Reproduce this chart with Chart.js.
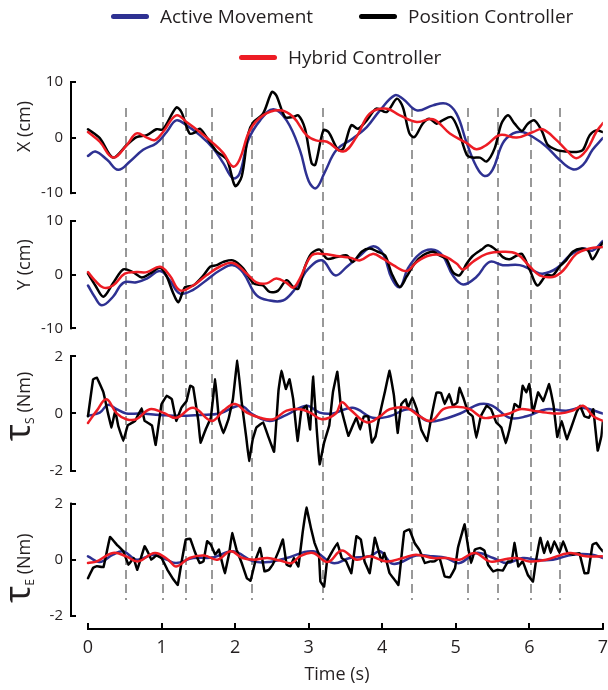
<!DOCTYPE html>
<html>
<head>
<meta charset="utf-8">
<script src="https://cdn.jsdelivr.net/npm/chart.js@4.4.1/dist/chart.umd.min.js"></script>
<style>
    body { margin: 0; background: #fff; }
    #wrap { position: relative; width: 608px; height: 690px; }
    #legend { position: absolute; left: 0; top: 0; width: 608px; height: 80px;
              font-family: 'Open Sans', sans-serif; font-size: 19px; color: #231f20; }
    .item { position: absolute; display: flex; align-items: center; white-space: nowrap; height: 24px; }
    .swatch { width: 38px; height: 5px; border-radius: 3px; margin-right: 11px; }
</style>
</head>
<body>
<div id="wrap">
    <canvas id="chart" width="608" height="690"></canvas>
    <div id="legend"></div>
</div>
<script>
// Tick values and event markers
const timeTicks = [0, 1, 2, 3, 4, 5, 6, 7];
const posTicks = [-10, 0, 10];
const torqueTicks = [-2, 0, 2];
const markerTimes = [0.52, 1.02, 1.33, 1.69, 2.23, 3.19, 4.41, 5.16, 5.58, 6.02, 6.42];

const seriesNames = ['Active Movement', 'Position Controller', 'Hybrid Controller'];
const seriesColors = ['#2e3192', '#000000', '#ed1c24'];

// X (cm) - [time, value]
const xActive = [[0,-3.3],[0.1,-2.5],[0.26,-4],[0.41,-5.8],[0.57,-4.3],[0.75,-2.2],[0.93,-1.0],[1.07,1.0],[1.2,3.1],[1.34,2.2],[1.52,0.45],[1.7,-1.9],[1.84,-4.6],[1.97,-7.3],[2.06,-6.5],[2.18,-0.45],[2.34,3.1],[2.52,5.1],[2.7,3.1],[2.88,-2.2],[3.0,-7.8],[3.1,-9.1],[3.22,-6.2],[3.38,-2.2],[3.6,-0.15],[3.79,1.9],[3.97,4.9],[4.17,7.6],[4.28,7.0],[4.47,4.9],[4.69,5.8],[4.87,6.1],[5.01,4.3],[5.15,-1.0],[5.28,-5.2],[5.39,-6.9],[5.5,-5.8],[5.64,-1.0],[5.78,0.75],[5.91,1.0],[6.05,0.1],[6.23,-1.6],[6.41,-4.0],[6.59,-5.7],[6.73,-4.9],[6.86,-2.2],[7.0,-0.1]];
const xPosition = [[0,1.5],[0.16,-0.1],[0.34,-3.6],[0.53,-1.3],[0.66,0.1],[0.8,0.45],[0.93,1.5],[1.02,1.5],[1.2,5.4],[1.27,4.6],[1.38,0.75],[1.45,0.9],[1.52,1.6],[1.61,0.1],[1.75,-2.5],[1.89,-4],[2.0,-8.7],[2.09,-7],[2.18,0.75],[2.25,2.8],[2.38,4.3],[2.5,8.2],[2.56,7.6],[2.68,3.7],[2.79,3.7],[2.86,4.0],[2.95,1.6],[3.04,-4.6],[3.09,-4.9],[3.2,1.3],[3.27,1.0],[3.4,-2.2],[3.47,-2],[3.58,2.2],[3.67,1.6],[3.79,3.1],[3.92,5.2],[4.06,4.6],[4.2,7.0],[4.28,5.5],[4.37,0.75],[4.44,0.1],[4.55,2.5],[4.64,3.4],[4.74,2.5],[4.82,3.1],[4.94,3.7],[5.03,1.6],[5.15,-3.1],[5.23,-3.6],[5.33,-3.6],[5.42,-4.3],[5.53,-1.9],[5.62,2.5],[5.71,4.0],[5.8,2.5],[5.9,1.2],[5.98,2.5],[6.07,3.1],[6.17,1.2],[6.25,-1.3],[6.37,-2.2],[6.5,-2.5],[6.64,-2.6],[6.73,-2.2],[6.82,0.4],[6.91,1.3],[7.0,1.0]];
const xHybrid = [[0,1.0],[0.16,-0.75],[0.34,-3.6],[0.53,-1.3],[0.66,0.75],[0.8,0],[0.91,-0.45],[1.02,1.0],[1.2,4.0],[1.34,2.8],[1.52,1.0],[1.7,-1.0],[1.84,-2.8],[1.97,-5.2],[2.06,-4],[2.2,1.3],[2.38,4.0],[2.61,4.9],[2.79,3.7],[2.97,0.45],[3.1,-0.5],[3.25,-0.75],[3.47,-2.5],[3.65,0.1],[3.83,4.3],[4.06,5.2],[4.24,4.0],[4.47,2.8],[4.69,3.3],[4.92,0.75],[5.15,-1.0],[5.28,-2.1],[5.42,-1.3],[5.6,0.45],[5.83,0],[6.05,1.0],[6.18,1.5],[6.37,-0.45],[6.5,-2.2],[6.64,-3.7],[6.78,-2.2],[6.91,1.0],[7.0,2.6]];

// Y (cm)
const yActive = [[0,-2.0],[0.09,-4.1],[0.19,-5.7],[0.34,-4.1],[0.48,-1.5],[0.66,-1.4],[0.8,-0.7],[0.98,0.7],[1.11,-1.0],[1.25,-3.5],[1.43,-2.8],[1.61,-1.0],[1.79,0.8],[1.97,1.8],[2.11,0.4],[2.29,-3.8],[2.47,-4.8],[2.65,-4.8],[2.79,-3.1],[2.88,-1.3],[3.0,1.2],[3.18,2.7],[3.36,-0.1],[3.52,1.5],[3.7,3.6],[3.87,5.3],[4.01,3.9],[4.13,-0.7],[4.24,-2.3],[4.35,1.2],[4.51,3.9],[4.67,4.7],[4.82,3.6],[4.96,-0.1],[5.1,-1.8],[5.28,-0.4],[5.46,2.4],[5.64,1.8],[5.87,1.8],[6.05,0.8],[6.18,0.2],[6.37,1.2],[6.55,3.6],[6.73,4.9],[6.86,4.5],[7.0,6.3]];
const yPosition = [[0,0.2],[0.1,-2.0],[0.21,-4.1],[0.34,-1.6],[0.48,1.0],[0.61,0.5],[0.73,-0.5],[0.84,0.2],[0.98,1.3],[1.07,-0.3],[1.16,-3.5],[1.23,-5.1],[1.32,-2.3],[1.43,-2.0],[1.57,-0.1],[1.66,1.5],[1.75,1.8],[1.84,2.4],[1.97,2.7],[2.11,1.2],[2.25,-1.6],[2.38,-2.0],[2.47,-3.2],[2.58,-3.0],[2.7,-1.0],[2.79,-2.3],[2.86,-2.6],[2.95,1.5],[3.04,4.0],[3.15,4.7],[3.25,3.0],[3.38,3.3],[3.52,3.6],[3.6,2.4],[3.72,4.3],[3.83,4.9],[3.94,4.3],[4.04,3.6],[4.13,0.2],[4.24,-2.3],[4.33,-0.4],[4.44,2.1],[4.55,3.6],[4.69,4.3],[4.78,3.6],[4.87,3.0],[4.96,0.5],[5.05,-0.1],[5.15,2.1],[5.23,3.5],[5.35,4.7],[5.44,5.5],[5.56,4.5],[5.64,3.3],[5.73,2.9],[5.83,3.6],[5.9,3.9],[6.01,0.8],[6.11,-2.0],[6.23,-0.1],[6.32,-0.1],[6.41,1.5],[6.5,2.7],[6.59,4.3],[6.71,4.9],[6.8,4.5],[6.86,2.9],[6.96,5.2],[7.0,6.0]];
const yHybrid = [[0,0.5],[0.09,-1.0],[0.21,-2.4],[0.34,-2.0],[0.5,0.2],[0.66,0.5],[0.8,0.5],[0.98,1.5],[1.11,-0.1],[1.25,-2.9],[1.43,-2.0],[1.61,-0.1],[1.79,1.5],[1.97,2.2],[2.16,0.2],[2.29,-1.4],[2.43,-1.6],[2.56,-0.7],[2.7,-1.5],[2.79,-2.4],[2.88,-0.7],[3.04,3.6],[3.2,3.9],[3.38,3.5],[3.56,3.2],[3.7,2.7],[3.87,3.9],[4.01,3.0],[4.15,1.8],[4.33,0.7],[4.47,2.4],[4.64,3.6],[4.82,3.6],[5.01,2.1],[5.1,1.0],[5.23,2.4],[5.42,3.9],[5.64,4.3],[5.83,3.9],[6.01,1.5],[6.14,-0.1],[6.32,-0.4],[6.46,0.8],[6.64,3.9],[6.82,4.9],[7.0,5.2]];

// Shoulder torque (Nm)
const tsActive = [[0,-0.08],[0.16,0.03],[0.27,0.3],[0.39,0.15],[0.52,0],[0.7,0],[0.98,-0.05],[1.25,-0.08],[1.52,-0.05],[1.79,0],[2.07,0.27],[2.25,-0.05],[2.47,-0.26],[2.7,-0.05],[2.97,0.27],[3.15,0.03],[3.33,0],[3.6,0.2],[3.87,-0.15],[4.1,-0.1],[4.37,0.15],[4.61,-0.26],[4.83,-0.2],[5.06,0],[5.33,0.33],[5.5,0.27],[5.73,-0.15],[5.96,-0.1],[6.23,0.15],[6.5,0.1],[6.72,0.2],[7.0,0]];
const tsPosition = [[0,-0.1],[0.07,1.2],[0.12,1.26],[0.21,0.74],[0.27,0.03],[0.32,-0.49],[0.37,0.1],[0.41,-0.42],[0.48,-0.96],[0.54,-0.42],[0.64,-0.26],[0.73,0.18],[0.77,-0.26],[0.87,-0.42],[0.92,-1.1],[1.0,0.33],[1.07,0.62],[1.14,0.5],[1.2,-0.26],[1.27,0.2],[1.34,0.44],[1.39,0.97],[1.43,0.92],[1.5,-0.26],[1.53,-1.02],[1.6,-0.56],[1.67,-0.15],[1.73,1.2],[1.78,-0.2],[1.84,-0.69],[1.91,-0.2],[1.97,0.5],[2.03,1.85],[2.09,0.39],[2.15,-0.8],[2.19,-1.66],[2.24,-0.9],[2.29,-0.49],[2.38,-0.31],[2.45,-0.8],[2.53,-1.34],[2.59,0.8],[2.63,1.5],[2.69,0.86],[2.74,1.2],[2.79,0.5],[2.85,-0.96],[2.9,0.1],[2.97,0.27],[3.02,-0.56],[3.06,1.3],[3.11,-0.56],[3.15,-1.78],[3.21,-1.02],[3.28,-0.42],[3.33,0.74],[3.39,1.46],[3.44,0.2],[3.54,-0.78],[3.6,-0.42],[3.65,-0.15],[3.7,-0.56],[3.75,-0.1],[3.81,-0.1],[3.86,-1.02],[3.91,-0.8],[3.97,0],[4.04,0.8],[4.1,1.5],[4.16,0.62],[4.21,-0.68],[4.26,0.33],[4.32,0.5],[4.35,0.2],[4.41,0.56],[4.47,0.15],[4.53,-0.56],[4.61,-0.96],[4.67,-0.1],[4.74,0.74],[4.8,0.72],[4.85,0.33],[4.91,0.68],[4.96,0.27],[5.02,0.38],[5.05,0.9],[5.11,0.5],[5.17,0.03],[5.23,-0.1],[5.28,-0.86],[5.34,-0.1],[5.42,0.27],[5.48,0.15],[5.55,-0.31],[5.62,-0.49],[5.68,-1.04],[5.73,-0.56],[5.8,0.33],[5.87,0.2],[5.91,0.97],[5.96,0.74],[6.0,1.03],[6.05,0.03],[6.12,0.74],[6.19,0.44],[6.27,1.03],[6.33,0.27],[6.38,-0.82],[6.44,-0.26],[6.51,-0.9],[6.57,-0.49],[6.64,0.03],[6.69,0.27],[6.75,-0.1],[6.81,-0.15],[6.87,0.15],[6.93,-1.3],[6.98,-0.8],[7.0,-0.3]];
const tsHybrid = [[0,-0.33],[0.12,0.1],[0.25,0.5],[0.39,0],[0.52,-0.2],[0.66,-0.2],[0.84,0.15],[1.02,0.03],[1.2,-0.15],[1.43,0.2],[1.68,-0.26],[1.84,0.1],[2.0,0.33],[2.16,0.03],[2.34,-0.15],[2.52,-0.2],[2.7,0.1],[2.88,0.15],[3.02,0.03],[3.18,-0.2],[3.37,0],[3.45,0.39],[3.56,0.15],[3.79,-0.31],[3.97,-0.1],[4.1,0.15],[4.33,0.2],[4.51,-0.1],[4.67,-0.26],[4.83,0.15],[5.01,0.24],[5.19,0.15],[5.37,-0.15],[5.55,-0.1],[5.73,0],[5.87,0.15],[6.05,0.1],[6.23,0.03],[6.41,0],[6.59,0.1],[6.73,0.27],[6.87,-0.1],[7.0,-0.26]];

// Elbow torque (Nm)
const teActive = [[0,0.12],[0.16,-0.08],[0.34,0.18],[0.48,0.3],[0.66,0],[0.89,0.18],[1.07,0],[1.2,-0.12],[1.43,0.06],[1.7,0.08],[1.97,0.3],[2.25,-0.06],[2.47,-0.08],[2.7,0.06],[3.06,0.3],[3.33,-0.12],[3.56,0.06],[3.83,0.12],[3.97,0.3],[4.12,-0.12],[4.23,-0.12],[4.46,0.15],[4.69,0.12],[4.87,0.06],[5.05,-0.12],[5.28,0.24],[5.51,0.06],[5.69,-0.12],[5.91,0.06],[6.09,0],[6.32,0],[6.59,0.18],[6.86,0.18],[7.0,0.06]];
const tePosition = [[0,-0.66],[0.07,-0.29],[0.12,-0.23],[0.21,-0.27],[0.3,0.81],[0.39,0.54],[0.48,0.3],[0.55,-0.18],[0.62,0.06],[0.67,-0.36],[0.77,0.48],[0.82,0.24],[0.86,0],[0.93,0.15],[1.0,0.06],[1.08,-0.36],[1.16,-0.7],[1.22,-0.9],[1.27,-0.12],[1.33,0.72],[1.39,0.75],[1.45,0.3],[1.52,-0.12],[1.57,-0.06],[1.62,0.66],[1.67,0.54],[1.73,0.18],[1.78,0.36],[1.86,-0.48],[1.92,0.24],[1.96,0.95],[2.02,0.36],[2.09,-0.12],[2.16,-0.66],[2.21,-0.75],[2.28,0],[2.34,0.42],[2.4,-0.42],[2.46,-0.36],[2.51,-0.18],[2.6,0.36],[2.65,0.72],[2.7,-0.18],[2.75,-0.24],[2.8,0.06],[2.86,-0.24],[2.92,1.0],[2.97,1.86],[3.03,1.14],[3.08,0.6],[3.14,0.18],[3.16,-0.78],[3.21,-0.96],[3.25,-0.06],[3.31,0.24],[3.39,0.6],[3.45,0.06],[3.51,-0.06],[3.58,-0.48],[3.65,0.84],[3.71,0.72],[3.76,-0.06],[3.83,-0.48],[3.9,0.78],[3.95,0.33],[3.99,-0.06],[4.03,0.24],[4.1,-0.48],[4.17,-0.72],[4.22,-0.9],[4.26,0.06],[4.3,1.0],[4.37,1.08],[4.44,0.6],[4.51,0.33],[4.58,-0.12],[4.65,-0.06],[4.71,-0.06],[4.78,0.06],[4.85,-0.6],[4.92,-0.63],[4.99,-0.3],[5.03,0.42],[5.08,0.9],[5.12,1.26],[5.17,0.42],[5.21,-0.12],[5.26,0.36],[5.33,0.42],[5.39,0.33],[5.44,-0.18],[5.51,-0.42],[5.57,-0.36],[5.64,-0.39],[5.71,-0.06],[5.76,-0.06],[5.8,0.6],[5.85,-0.24],[5.91,-0.06],[5.98,-0.54],[6.05,-0.78],[6.09,-0.06],[6.15,0.78],[6.2,0.24],[6.25,0.66],[6.29,0.24],[6.34,0.66],[6.41,0.24],[6.46,0.66],[6.52,0.24],[6.59,0.18],[6.68,0.24],[6.75,-0.48],[6.8,-0.48],[6.86,0.54],[6.91,0.6],[6.96,0.42],[7.0,0.3]];
const teHybrid = [[0,-0.12],[0.12,-0.06],[0.34,0.24],[0.52,0.12],[0.68,-0.06],[0.91,0.24],[1.09,0],[1.2,-0.24],[1.38,0.06],[1.58,0.15],[1.76,0],[1.94,0.3],[2.1,0.06],[2.26,0],[2.44,0.06],[2.61,-0.03],[2.77,-0.12],[2.88,0.12],[3.06,0.24],[3.26,-0.08],[3.45,0.33],[3.65,0],[3.83,0.12],[4.06,-0.06],[4.28,0.06],[4.46,0.18],[4.69,0.06],[4.87,0.06],[5.05,0],[5.26,0.24],[5.46,-0.06],[5.64,0],[5.82,0.06],[6.0,-0.06],[6.23,0],[6.55,0.24],[6.77,0.12],[7.0,0.12]];

const FONT = "'Open Sans', sans-serif";
const INK = '#231f20';

// One panel per y axis, stacked top to bottom
const panels = [
    { id: 'yX', ticks: posTicks, series: [xActive, xPosition, xHybrid], jagged: false,
      title: [{ t: 'X (cm)', size: 18, dy: 0 }], titleAt: 2, height: 111, gapAfter: 28 },
    { id: 'yY', ticks: posTicks, series: [yActive, yPosition, yHybrid], jagged: false,
      title: [{ t: 'Y (cm)', size: 18, dy: 0 }], titleAt: 1.9, height: 107, gapAfter: 28 },
    { id: 'yTS', ticks: torqueTicks, series: [tsActive, tsPosition, tsHybrid], jagged: true,
      title: [{ t: 'τ', size: 36, dy: 0 }, { t: 'S', size: 12, dy: 4 }, { t: ' (Nm)', size: 18, dy: 0 }], titleAt: 0.25, height: 114, gapAfter: 33 },
    { id: 'yTE', ticks: torqueTicks, series: [teActive, tePosition, teHybrid], jagged: true,
      title: [{ t: 'τ', size: 36, dy: 0 }, { t: 'E', size: 12, dy: 4 }, { t: ' (Nm)', size: 18, dy: 0 }], titleAt: -0.3, height: 112, gapAfter: 13 }
];

// Legend (HTML, two rows like the original)
const legendSpots = [[111, 16], [359, 16], [239, 57]];
const legend = document.getElementById('legend');
seriesNames.forEach((name, i) => {
    const item = document.createElement('div');
    item.className = 'item';
    item.style.left = legendSpots[i][0] + 'px';
    item.style.top = (legendSpots[i][1] - 12) + 'px';
    item.innerHTML = '<span class="swatch" style="background:' + seriesColors[i] + '"></span>' + name;
    legend.appendChild(item);
});

// Build stacked y axes (with blank spacer axes for the gaps)
const scales = {};
const stackOrder = [];
panels.forEach((p, i) => {
    stackOrder.push({ id: p.id, panel: p, weight: p.height });
    stackOrder.push({ id: 'gap' + i, panel: null, weight: p.gapAfter });
});
stackOrder.forEach((s, i) => {
    const common = {
        type: 'linear', position: 'left', stack: 'panels', stackWeight: s.weight,
        weight: stackOrder.length - i,
        border: { display: false }, grid: { display: false, drawTicks: false },
        afterFit: scale => { scale.width = 30; }
    };
    if (s.panel) {
        const tv = s.panel.ticks;
        scales[s.id] = Object.assign(common, {
            min: tv[0], max: tv[tv.length - 1],
            afterBuildTicks: scale => { scale.ticks = tv.map(v => ({ value: v })); },
            ticks: { padding: 8, color: INK, font: { family: FONT, size: 15 } }
        });
    } else {
        scales[s.id] = Object.assign(common, { min: 0, max: 1, ticks: { display: false } });
    }
});

scales.x = {
    type: 'linear', position: 'bottom', min: -0.231, max: 7,
    afterBuildTicks: scale => { scale.ticks = timeTicks.map(v => ({ value: v })); },
    border: { display: false },
    grid: { drawOnChartArea: false, drawTicks: true, tickLength: 8, color: 'rgba(0,0,0,0)' },
    ticks: { padding: 0, color: INK, font: { family: FONT, size: 18 } },
    title: { display: true, text: 'Time (s)', color: INK, font: { family: FONT, size: 18 }, padding: { top: 6, bottom: 0 } }
};

// Datasets: hybrid on top, then position, active at the bottom
const datasets = [];
panels.forEach(p => {
    p.series.forEach((data, k) => {
        datasets.push({
            label: seriesNames[k],
            data: data.map(d => ({ x: d[0], y: d[1] })),
            yAxisID: p.id,
            borderColor: seriesColors[k],
            borderWidth: 2.5,
            tension: k === 1 ? (p.jagged ? 0.05 : 0.3) : 0.4,
            order: 2 - k,
            pointRadius: 0
        });
    });
});

// Grey dashed event markers spanning all panels
const markerPlugin = {
    id: 'markers',
    beforeDatasetsDraw(chart) {
        const ctx = chart.ctx;
        const xs = chart.scales.x;
        const top = chart.scales.yX.getPixelForValue(5.3);
        const bottom = chart.scales.yTE.getPixelForValue(-1.44);
        ctx.save();
        ctx.strokeStyle = '#999999';
        ctx.lineWidth = 2;
        ctx.setLineDash([9, 5]);
        markerTimes.forEach(t => {
            const x = Math.round(xs.getPixelForValue(t));
            ctx.beginPath();
            ctx.moveTo(x, top);
            ctx.lineTo(x, bottom);
            ctx.stroke();
        });
        ctx.restore();
    }
};

// Bracket style axes (inward ticks) and rotated panel titles with subscripts
const axisPlugin = {
    id: 'axisDecor',
    afterDraw(chart) {
        const ctx = chart.ctx;
        const xs = chart.scales.x;
        ctx.save();
        ctx.fillStyle = '#000';
        // time axis: line only from first to last tick
        const x0 = xs.getPixelForValue(timeTicks[0]);
        const x1 = xs.getPixelForValue(timeTicks[timeTicks.length - 1]);
        const ty = Math.round(xs.top);
        ctx.fillRect(x0 - 1, ty - 1, x1 - x0 + 2, 2);
        timeTicks.forEach(v => {
            const px = Math.round(xs.getPixelForValue(v));
            ctx.fillRect(px - 1, ty - 6, 2, 6);
        });
        // panel y axes
        panels.forEach(p => {
            const sc = chart.scales[p.id];
            const ax = Math.round(sc.right);
            const yTop = sc.getPixelForValue(p.ticks[p.ticks.length - 1]);
            const yBot = sc.getPixelForValue(p.ticks[0]);
            ctx.fillRect(ax - 1, yTop - 1, 2, yBot - yTop + 2);
            p.ticks.forEach(v => {
                const py = Math.round(sc.getPixelForValue(v));
                ctx.fillRect(ax - 1, py - 1, 6, 2);
            });
        });

        ctx.fillStyle = INK;
        ctx.textBaseline = 'alphabetic';
        panels.forEach(p => {
            const yc = chart.scales[p.id].getPixelForValue(p.titleAt);
            let total = 0;
            p.title.forEach(part => {
                ctx.font = part.size + 'px ' + FONT;
                part.w = ctx.measureText(part.t).width;
                total += part.w;
            });
            ctx.save();
            ctx.translate(30, yc);
            ctx.rotate(-Math.PI / 2);
            let pos = -total / 2;
            p.title.forEach(part => {
                ctx.font = part.size + 'px ' + FONT;
                ctx.fillText(part.t, pos, part.dy);
                pos += part.w;
            });
            ctx.restore();
        });
        ctx.restore();
    }
};

new Chart(document.getElementById('chart'), {
    type: 'line',
    data: { datasets: datasets },
    options: {
        responsive: false,
        animation: false,
        devicePixelRatio: 1,
        layout: { padding: { left: 41, right: 5, top: 82, bottom: 4 } },
        plugins: { legend: { display: false }, tooltip: { enabled: false } },
        elements: { line: { borderCapStyle: 'round', borderJoinStyle: 'round' } },
        scales: scales
    },
    plugins: [markerPlugin, axisPlugin]
});
</script>
</body>
</html>
